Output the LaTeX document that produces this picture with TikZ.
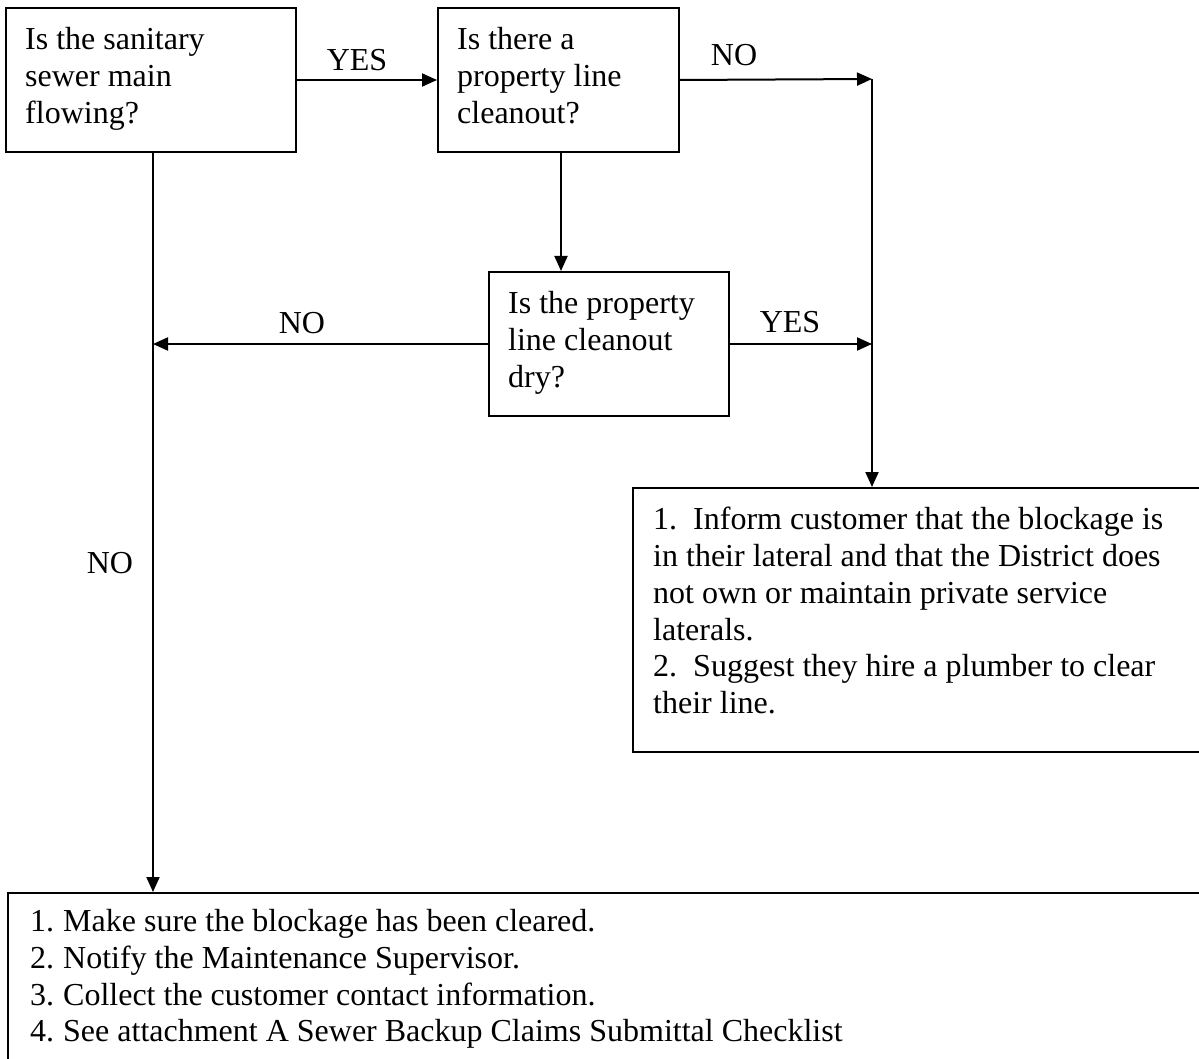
\documentclass[tikz,border=0pt]{standalone}
\usepackage{fontspec}
\setmainfont{Liberation Serif}
\usetikzlibrary{arrows.meta}
\begin{document}
\begin{tikzpicture}[x=1pt,y=-1pt,
  box/.style={draw=black,line width=2pt,anchor=north west,inner sep=0pt},
  txt/.style={anchor=north west,align=left,inner sep=0pt,font=\fontsize{32}{36.8}\selectfont},
  lbl/.style={inner sep=0pt,font=\fontsize{32}{36}\selectfont},
  arr/.style={line width=2pt,-{Triangle[length=15pt,width=13pt]}}]
\clip (0,0) rectangle (1199,1059);
\fill[white] (0,0) rectangle (1199,1059);

\node[box,minimum width=290pt,minimum height=144pt] (A) at (5,7) {};
\node[txt] (At) at (25,27) {Is the sanitary\\sewer main\\flowing?};

\node[box,minimum width=241pt,minimum height=144pt] (B) at (437,7) {};
\node[txt] (Bt) at (457,27) {Is there a\\property line\\cleanout?};

\node[box,minimum width=240pt,minimum height=144pt] (M) at (488,271) {};
\node[txt] (Mt) at (508,291) {Is the property\\line cleanout\\dry?};

\node[box,minimum width=700pt,minimum height=264pt] (R) at (632,487) {};
\node[txt] (Rt) at (653,507) {1.~~Inform customer that the blockage is\\in their lateral and that the District does\\not own or maintain private service\\laterals.\\2.~~Suggest they hire a plumber to clear\\their line.};

\node[box,minimum width=1300pt,minimum height=300pt] (D) at (7,892) {};
\node[txt] (Dt) at (30,909) {\makebox[33pt][l]{1.}Make sure the blockage has been cleared.\\\makebox[33pt][l]{2.}Notify the Maintenance Supervisor.\\\makebox[33pt][l]{3.}Collect the customer contact information.\\\makebox[33pt][l]{4.}See attachment A Sewer Backup Claims Submittal Checklist};

\coordinate (c1) at (872,79);
\coordinate (bs) at ([xshift=2.5pt]B.south);
\coordinate (as) at ([xshift=2pt]A.south);

\draw[arr] (A.east) -- (B.west);
\draw[arr] (B.east) -- (c1);
\draw[arr] (c1) -- (c1 |- R.north);
\draw[arr] (bs) -- (bs |- M.north);
\draw[arr] (M.west) -- (M.west -| as);
\draw[arr] (M.east) -- (M.east -| c1);
\draw[arr] (as) -- (as |- D.north);

\node[lbl] (l1) at (357,60) {YES};
\node[lbl] (l2) at (734,55) {NO};
\node[lbl] (l3) at (302,323) {NO};
\node[lbl] (l4) at (790,322) {YES};
\node[lbl] (l5) at (110,563) {NO};
\end{tikzpicture}
\end{document}
